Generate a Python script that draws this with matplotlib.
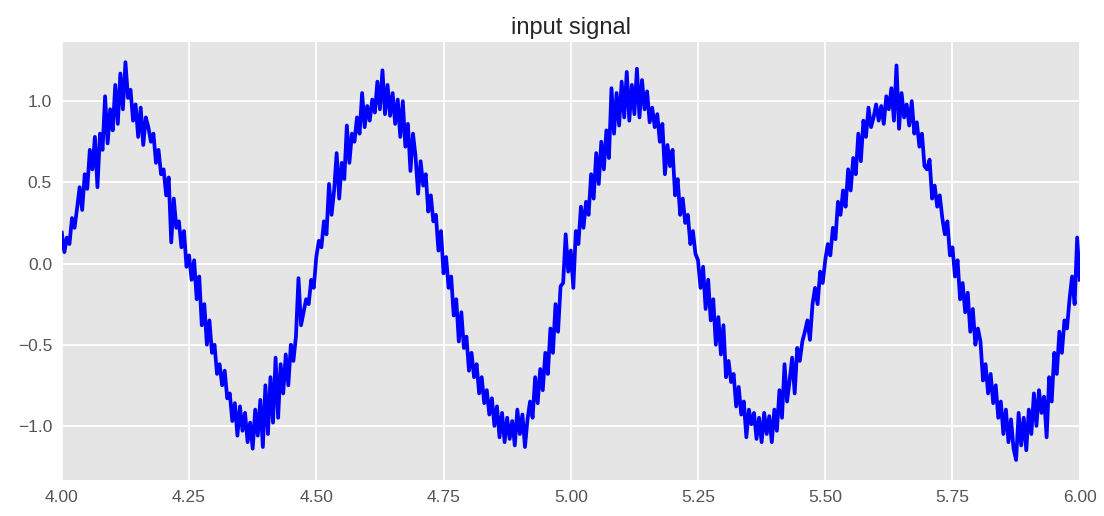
import numpy as np
import matplotlib
matplotlib.use("Agg")
import matplotlib.pyplot as plt

# sample timing of the plotted window
T_START = 4.0
FS = 200  # samples per second

# signal samples, one list per 0.5 s cycle
cycle_1 = [0.19, 0.07, 0.16, 0.12, 0.28, 0.22, 0.34, 0.47, 0.33, 0.55,
           0.46, 0.70, 0.58, 0.78, 0.47, 0.80, 0.70, 1.03, 0.74, 0.95,
           0.82, 1.10, 0.86, 1.17, 0.95, 1.24, 1.02, 1.07, 0.88, 0.98,
           0.78, 0.96, 0.73, 0.90, 0.84, 0.75, 0.80, 0.62, 0.70, 0.55,
           0.58, 0.42, 0.53, 0.13, 0.40, 0.22, 0.26, 0.10, 0.20, -0.02,
           0.05, -0.10, 0.02, -0.22, -0.08, -0.38, -0.25, -0.50, -0.35, -0.55,
           -0.50, -0.68, -0.62, -0.75, -0.66, -0.83, -0.80, -0.97, -0.86, -1.06,
           -0.88, -1.03, -0.92, -1.10, -0.98, -1.14, -0.90, -1.06, -0.84, -1.13,
           -0.75, -1.05, -0.70, -0.98, -0.58, -0.95, -0.62, -0.80, -0.56, -0.75,
           -0.50, -0.60, -0.45, -0.09, -0.38, -0.30, -0.22, -0.25, -0.10, -0.15]

cycle_2 = [0.04, 0.14, 0.10, 0.26, 0.18, 0.49, 0.30, 0.45, 0.68, 0.40,
           0.62, 0.52, 0.85, 0.62, 0.80, 0.75, 0.90, 0.80, 1.05, 0.84,
           0.97, 0.88, 1.01, 0.93, 1.12, 0.95, 1.19, 0.92, 1.10, 0.91,
           1.05, 0.86, 1.01, 0.78, 1.00, 0.72, 0.86, 0.57, 0.80, 0.66,
           0.43, 0.63, 0.48, 0.55, 0.32, 0.42, 0.26, 0.30, 0.08, 0.20,
           -0.06, 0.04, -0.15, -0.08, -0.32, -0.22, -0.48, -0.30, -0.52, -0.45,
           -0.66, -0.55, -0.70, -0.62, -0.80, -0.70, -0.86, -0.78, -0.93, -0.83,
           -1.00, -0.88, -1.07, -0.92, -1.10, -0.95, -1.08, -0.97, -1.12, -0.90,
           -1.05, -0.93, -1.13, -0.96, -0.85, -0.95, -0.70, -0.86, -0.65, -0.78,
           -0.55, -0.68, -0.40, -0.55, -0.25, -0.42, -0.14, -0.12, 0.18, -0.05]

cycle_3 = [0.08, -0.15, 0.20, 0.12, 0.35, 0.22, 0.38, 0.30, 0.55, 0.40,
           0.68, 0.49, 0.75, 0.58, 0.82, 0.65, 1.08, 0.80, 1.05, 0.85,
           1.12, 0.90, 1.18, 0.88, 1.10, 0.92, 1.20, 0.90, 1.13, 0.95,
           1.06, 0.87, 0.96, 0.84, 0.92, 0.75, 0.86, 0.55, 0.73, 0.60,
           0.70, 0.42, 0.52, 0.30, 0.40, 0.25, 0.30, 0.12, 0.20, 0.06,
           0.02, -0.15, -0.02, -0.28, -0.10, -0.35, -0.22, -0.50, -0.33, -0.56,
           -0.38, -0.70, -0.60, -0.73, -0.68, -0.88, -0.76, -0.93, -0.85, -1.07,
           -0.90, -0.99, -0.92, -1.08, -0.95, -1.10, -0.92, -1.05, -0.94, -1.10,
           -0.90, -1.03, -0.78, -0.95, -0.62, -0.85, -0.72, -0.58, -0.80, -0.52,
           -0.60, -0.48, -0.42, -0.35, -0.47, -0.25, -0.15, -0.25, -0.05, -0.12]

cycle_4 = [0.02, 0.12, 0.05, 0.22, 0.15, 0.38, 0.30, 0.45, 0.35, 0.58,
           0.45, 0.65, 0.55, 0.80, 0.63, 0.88, 0.78, 0.96, 0.84, 0.90,
           0.98, 0.88, 0.97, 0.86, 1.03, 0.95, 1.08, 0.88, 1.22, 0.83,
           1.05, 0.90, 0.98, 0.85, 1.00, 0.80, 0.87, 0.72, 0.80, 0.60,
           0.58, 0.64, 0.40, 0.48, 0.35, 0.42, 0.28, 0.18, 0.26, 0.05,
           0.10, -0.08, 0.02, -0.22, -0.12, -0.30, -0.18, -0.42, -0.28, -0.50,
           -0.40, -0.48, -0.72, -0.62, -0.80, -0.68, -0.86, -0.75, -0.95, -0.85,
           -1.05, -0.90, -1.10, -0.96, -1.14, -1.21, -0.92, -1.12, -0.95, -1.15,
           -0.90, -1.05, -0.80, -1.00, -0.78, -0.92, -0.82, -1.07, -0.70, -0.85,
           -0.55, -0.68, -0.42, -0.55, -0.35, -0.40, -0.22, -0.08, -0.25, 0.16,
           -0.10]

signal = np.array(cycle_1 + cycle_2 + cycle_3 + cycle_4)
t = T_START + np.arange(len(signal)) / FS

plt.rcParams['font.family'] = ['Liberation Sans', 'DejaVu Sans']

fig, ax = plt.subplots(figsize=(11.04, 5.16), dpi=100)
fig.subplots_adjust(left=0.056, right=0.978, top=0.918, bottom=0.07)

ax.set_facecolor('#E5E5E5')
ax.grid(True, color='white', linewidth=1.3)
ax.set_axisbelow(True)
for s in ax.spines.values():
    s.set_visible(False)

ax.plot(t, signal, color='blue', linewidth=2.7)

ax.set_xlim(4.0, 6.0)
ax.set_xticks([4.0, 4.25, 4.5, 4.75, 5.0, 5.25, 5.5, 5.75, 6.0])
ax.set_xticklabels(['4.00', '4.25', '4.50', '4.75', '5.00', '5.25', '5.50', '5.75', '6.00'])
ax.set_yticks([-1.0, -0.5, 0.0, 0.5, 1.0])
ax.tick_params(length=0, labelsize=12.5, labelcolor='#555555', pad=7)
ax.set_title('input signal', fontsize=17, color='#262626', pad=6)

fig.savefig('out.png')
